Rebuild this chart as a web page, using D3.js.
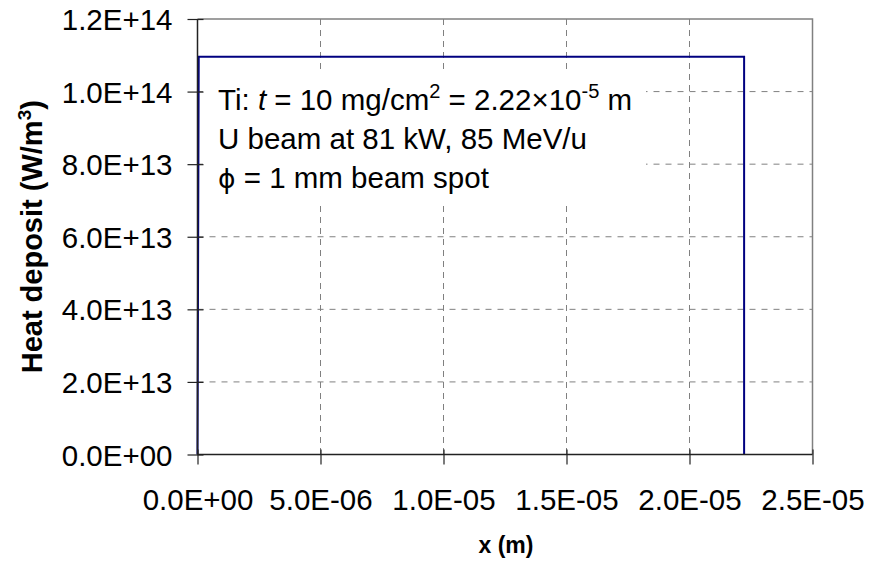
<!DOCTYPE html>
<html>
<head>
<meta charset="utf-8">
<script src="https://cdn.jsdelivr.net/npm/d3@7"></script>
<style>
body { margin:0; background:#fff; }
text { font-family: "Liberation Sans", Arial, sans-serif; fill:#000; }
</style>
</head>
<body>
<div id="chart"></div>
<script>
// data
var xVals = [0, 5e-8, 2.222e-5, 2.222e-5];
var yVals = [0, 1.096e14, 1.096e14, 0];
var xTicks = [0, 5e-6, 1e-5, 1.5e-5, 2e-5, 2.5e-5];
var xTickLabels = ["0.0E+00", "5.0E-06", "1.0E-05", "1.5E-05", "2.0E-05", "2.5E-05"];
var yTicks = [0, 2e13, 4e13, 6e13, 8e13, 1e14, 1.2e14];
var yTickLabels = ["0.0E+00", "2.0E+13", "4.0E+13", "6.0E+13", "8.0E+13", "1.0E+14", "1.2E+14"];

var w = 872, h = 565;
var plot = {left:197.5, right:812.5, top:19, bottom:454.5};

var svg = d3.select("#chart").append("svg")
    .attr("width", w)
    .attr("height", h);

var x = d3.scaleLinear().domain([0, 2.5e-5]).range([plot.left, plot.right]);
var y = d3.scaleLinear().domain([0, 1.2e14]).range([plot.bottom, plot.top]);

// gridlines
svg.append("g").selectAll("line")
  .data(yTicks.slice(1, -1))
  .enter().append("line")
  .attr("x1", plot.left).attr("x2", plot.right)
  .attr("y1", function(d){ return y(d); })
  .attr("y2", function(d){ return y(d); })
  .attr("stroke", "#808080").attr("stroke-width", 1)
  .attr("stroke-dasharray", "6,6");

svg.append("g").selectAll("line")
  .data(xTicks.slice(1, -1))
  .enter().append("line")
  .attr("y1", plot.top).attr("y2", plot.bottom)
  .attr("x1", function(d){ return x(d); })
  .attr("x2", function(d){ return x(d); })
  .attr("stroke", "#808080").attr("stroke-width", 1)
  .attr("stroke-dasharray", "6,5");

// top and right border
svg.append("path")
  .attr("d", "M" + plot.left + "," + plot.top + "H" + plot.right + "V" + plot.bottom)
  .attr("fill", "none").attr("stroke", "#808080").attr("stroke-width", 1.5);

// white box behind the note
svg.append("rect")
  .attr("x", 203).attr("y", 69)
  .attr("width", 443).attr("height", 134)
  .attr("fill", "#fff");

// the curve
var line = d3.line()
  .x(function(d){ return x(d[0]); })
  .y(function(d){ return y(d[1]); });
svg.append("path")
  .datum(d3.zip(xVals, yVals))
  .attr("d", line)
  .attr("fill", "none")
  .attr("stroke", "#000080")
  .attr("stroke-width", 2);

// axes
var xAxis = d3.axisBottom(x)
  .tickValues(xTicks)
  .tickSize(10)
  .tickPadding(45.5)
  .tickFormat(function(d, i){ return xTickLabels[i]; });
var gx = svg.append("g")
  .attr("transform", "translate(0," + plot.bottom + ")")
  .call(xAxis);
gx.selectAll(".tick line").attr("y1", -5);

var yAxis = d3.axisLeft(y)
  .tickValues(yTicks)
  .tickSize(10)
  .tickPadding(15)
  .tickFormat(function(d, i){ return yTickLabels[i]; });
var gy = svg.append("g")
  .attr("transform", "translate(" + plot.left + ",0)")
  .call(yAxis);
gy.selectAll(".tick line").attr("x1", 6);

svg.selectAll(".domain").attr("stroke", "#222").attr("stroke-width", 1.5);
svg.selectAll(".tick line").attr("stroke", "#222").attr("stroke-width", 1.2);
svg.selectAll(".tick text")
  .attr("font-family", "Liberation Sans, Arial, sans-serif")
  .attr("font-size", 29.5)
  .attr("fill", "#000");
gx.selectAll(".tick text").attr("dy", "0");
gy.selectAll(".tick text").attr("dy", "0.36em");
gx.selectAll(".domain").attr("d", "M" + plot.left + ",0H" + plot.right);
gy.selectAll(".domain").attr("d", "M0," + plot.bottom + "V" + plot.top);

// axis titles
svg.append("text")
  .attr("x", (plot.left + plot.right) / 2 + 1)
  .attr("y", 553)
  .attr("text-anchor", "middle")
  .attr("font-weight", "bold")
  .attr("font-size", 23)
  .text("x (m)");

var yt = svg.append("text")
  .attr("transform", "translate(42," + ((plot.top + plot.bottom) / 2) + ") rotate(-90)")
  .attr("text-anchor", "middle")
  .attr("font-weight", "bold")
  .attr("font-size", 29);
yt.append("tspan").text("Heat deposit (W/m");
yt.append("tspan").attr("font-size", "0.65em").attr("dy", "-0.6em").text("3");
yt.append("tspan").attr("dy", "0.39em").text(")");

// note
var note = svg.append("text").attr("font-size", 29.5);
var l1 = note.append("tspan").attr("x", 218).attr("y", 110);
l1.append("tspan").text("Ti: ");
l1.append("tspan").attr("font-style", "italic").text("t");
l1.append("tspan").text(" = 10 mg/cm");
l1.append("tspan").attr("font-size", "0.68em").attr("dy", "-0.6em").text("2");
l1.append("tspan").attr("dy", "0.41em").text(" = 2.22\u00d710");
l1.append("tspan").attr("font-size", "0.68em").attr("dy", "-0.6em").text("-5");
l1.append("tspan").attr("dy", "0.41em").text(" m");
note.append("tspan").attr("x", 218).attr("y", 149).text("U beam at 81 kW, 85 MeV/u");
var l3 = note.append("tspan").attr("x", 218).attr("y", 188);
l3.append("tspan").attr("font-family", "DejaVu Sans, sans-serif").attr("font-size", "0.9em").text("\u03d5");
l3.append("tspan").text(" = 1 mm beam spot");
</script>
</body>
</html>
